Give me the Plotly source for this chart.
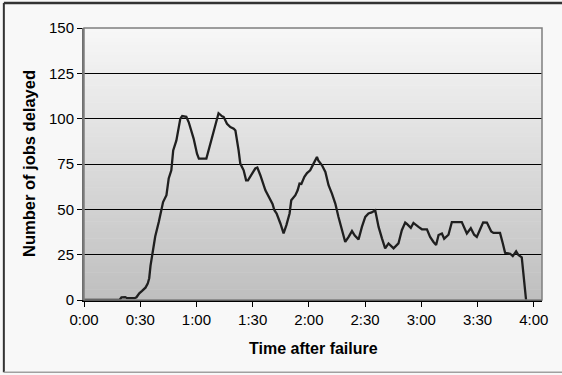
import plotly.graph_objects as go

# time after failure (minutes) and number of jobs delayed
minutes = [0, 19, 20, 22, 23, 27, 28, 29.5, 31, 32.8, 34, 34.8, 35.5, 36.7, 38, 39.9,
           41.3, 42.2, 44, 45.2, 46.6, 47.6, 49.3, 51.4, 52.4, 54.6, 55.9, 58.5, 60.3,
           61.3, 65.3, 67.4, 69.2, 71, 71.8, 73.7, 74.5, 76.3, 78.1, 79.9, 80.8, 82.5,
           83.4, 85.2, 86.5, 87.5, 89.7, 91.4, 92.5, 94.1, 96.8, 99.4, 100.6, 101.6,
           102.8, 104.8, 106.5, 108, 109.7, 110.6, 112.8, 114, 115, 116, 117.6, 119,
           120.7, 122.5, 124.3, 125, 127, 128.8, 130.5, 132.3, 134.1, 135.8, 137.6,
           139.4, 141.2, 143, 144.5, 146.5, 148.3, 150.1, 151.8, 153.5, 155.4, 157.2,
           159, 160.7, 162.5, 163.5, 165.2, 167.8, 169.6, 171.4, 172.3, 174.4, 175.8,
           178.5, 180.3, 183, 184.7, 186.5, 187.9, 189.2, 191, 192.2, 194.5, 196.3,
           201.6, 204.3, 206.4, 208.2, 209.6, 211.4, 213, 215, 217.3, 218.5, 222,
           223.5, 224.7, 227.4, 228.8, 230.6, 231.8, 233.6, 234.5, 235.9]
jobs_delayed = [0, 0, 1.5, 1.6, 1, 1, 1.5, 3.7, 5, 6.8, 9, 12, 19, 25.7, 35, 43,
                49.5, 54, 57.8, 67, 71.5, 82.5, 88, 100, 101.4, 101, 98, 89, 80.7,
                78, 78, 86.2, 93.6, 101, 103, 101.3, 101, 97.2, 95.4, 94.5, 93.5, 82.5,
                75.2, 71.5, 66, 66, 69.7, 72.5, 73, 68.8, 60.5, 55, 53, 49.5,
                47.7, 42.2, 36.7, 41.3, 47.7, 55, 57.8, 60.5, 64.2, 64, 67.9, 70,
                71.5, 75.2, 78.9, 77, 74.3, 70.6, 63.3, 58.7, 53.2, 45.8, 38.5,
                32, 34.8, 38, 35.5, 33.4, 40.3, 45.8, 47.7, 48.3, 49.5, 40.3,
                34, 28.5, 31.2, 30, 28.5, 31.2, 38.5, 42.7, 42, 39.8, 42.5,
                40.3, 39, 39, 34.8, 32, 30.3, 35.8, 36.7, 33.8, 36, 43,
                43, 36.7, 39.6, 36, 34.8, 39, 42.8, 42.7, 37.8, 37, 37,
                31.2, 26, 25.5, 24.2, 26.8, 24.8, 23.5, 12.8, 0]

x_tick_vals = [0, 30, 60, 90, 120, 150, 180, 210, 240]
x_tick_text = ["0:00", "0:30", "1:00", "1:30", "2:00", "2:30", "3:00", "3:30", "4:00"]
y_tick_vals = [0, 25, 50, 75, 100, 125, 150]

FONT = "Liberation Sans, Arial, sans-serif"

fig = go.Figure()
fig.add_trace(go.Scatter(x=minutes, y=jobs_delayed, mode="lines",
                         line=dict(color="#1f1f1f", width=2.3), hoverinfo="skip"))

shapes = []
# vertical gradient background in plot area
n = 80
top = (247, 247, 247)
bot = (191, 191, 191)
for i in range(n):
    f = i / (n - 1)
    c = tuple(round(bot[k] + (top[k] - bot[k]) * f) for k in range(3))
    shapes.append(dict(type="rect", xref="paper", yref="paper",
                       x0=0, x1=1, y0=i / n, y1=(i + 1) / n + 0.002,
                       fillcolor="rgb(%d,%d,%d)" % c, line=dict(width=0),
                       layer="below"))
# plot border
shapes.append(dict(type="rect", xref="paper", yref="paper", x0=0, x1=1, y0=0, y1=1,
                   line=dict(color="#7f7f7f", width=1.5), fillcolor="rgba(0,0,0,0)",
                   layer="above"))
# outer frame
shapes.append(dict(type="line", xref="paper", yref="paper", x0=-0.175, x1=1.05,
                   y0=1.092, y1=1.092, line=dict(color="#333333", width=2.5)))
shapes.append(dict(type="line", xref="paper", yref="paper", x0=-0.175, x1=-0.175,
                   y0=-0.266, y1=1.092, line=dict(color="#333333", width=2)))
shapes.append(dict(type="line", xref="paper", yref="paper", x0=-0.175, x1=1.05,
                   y0=-0.266, y1=-0.266, line=dict(color="#a0a0a0", width=1.5)))

fig.update_layout(
    width=562, height=375,
    margin=dict(l=84, r=20, t=28, b=75, pad=0),
    paper_bgcolor="#f8f8f8",
    plot_bgcolor="rgba(0,0,0,0)",
    showlegend=False,
    shapes=shapes,
    font=dict(family=FONT, size=15, color="#000"),
    xaxis=dict(range=[0, 244.4], tickvals=x_tick_vals, ticktext=x_tick_text,
               showgrid=False, zeroline=False, showline=True, linecolor="#000",
               linewidth=1.5, ticks="outside", ticklen=5, tickcolor="#000",
               tickfont=dict(size=15, family=FONT)),
    yaxis=dict(range=[0, 150], tickvals=y_tick_vals, showgrid=True,
               gridcolor="#000", gridwidth=1, zeroline=False, showline=True,
               linecolor="#6f6f6f", linewidth=2, ticks="outside", ticklen=5,
               tickcolor="#000", tickfont=dict(size=15, family=FONT)),
    annotations=[
        dict(text="<b>Time after failure</b>", xref="paper", yref="paper",
             x=0.5, y=-0.18, yanchor="middle", xanchor="center", showarrow=False,
             font=dict(size=16, family=FONT)),
        dict(text="<b>Number of jobs delayed</b>", xref="paper", yref="paper",
             x=-0.12, y=0.5, textangle=-90, xanchor="center", yanchor="middle",
             showarrow=False, font=dict(size=16.5, family=FONT)),
    ],
)

fig.write_html("out.html",
               config={"displayModeBar": False},
               post_script="document.body.style.margin='0';"
                           "document.body.style.overflow='hidden';")
